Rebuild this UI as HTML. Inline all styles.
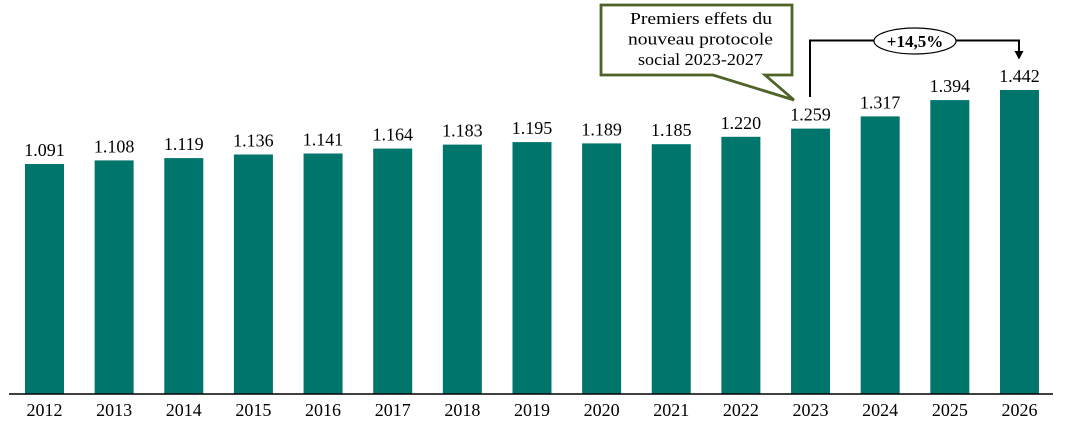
<!DOCTYPE html>
<html><head><meta charset="utf-8"><style>
html,body{margin:0;padding:0;background:#fff;}
svg{display:block;}
text{font-family:"Liberation Serif",serif;fill:#000;}
</style></head><body>
<svg width="1089" height="422" viewBox="0 0 1089 422" xmlns="http://www.w3.org/2000/svg">
<g fill="#00756c">
<rect x="25" y="164.0" width="39" height="230.0"/>
<rect x="94.64" y="160.4" width="39" height="233.6"/>
<rect x="164.28" y="158.1" width="39" height="235.9"/>
<rect x="233.92" y="154.5" width="39" height="239.5"/>
<rect x="303.56" y="153.5" width="39" height="240.5"/>
<rect x="373.2" y="148.6" width="39" height="245.4"/>
<rect x="442.84" y="144.6" width="39" height="249.4"/>
<rect x="512.48" y="142.1" width="39" height="251.9"/>
<rect x="582.12" y="143.4" width="39" height="250.6"/>
<rect x="651.76" y="144.2" width="39" height="249.8"/>
<rect x="721.4" y="136.8" width="39" height="257.2"/>
<rect x="791.04" y="128.6" width="39" height="265.4"/>
<rect x="860.68" y="116.4" width="39" height="277.6"/>
<rect x="930.32" y="100.1" width="39" height="293.9"/>
<rect x="999.96" y="90.0" width="39" height="304.0"/>
</g>
<line x1="9" y1="394" x2="1053" y2="394" stroke="#000" stroke-width="1.6"/>
<g font-size="18" text-anchor="middle">
<text x="44.5" y="156">1.091</text>
<text x="114.14" y="152.4">1.108</text>
<text x="183.78" y="150.1">1.119</text>
<text x="253.42" y="146.5">1.136</text>
<text x="323.06" y="145.5">1.141</text>
<text x="392.7" y="140.6">1.164</text>
<text x="462.34" y="136.6">1.183</text>
<text x="531.98" y="134.1">1.195</text>
<text x="601.62" y="135.4">1.189</text>
<text x="671.26" y="136.2">1.185</text>
<text x="740.9" y="128.8">1.220</text>
<text x="810.54" y="120.6">1.259</text>
<text x="880.18" y="108.4">1.317</text>
<text x="949.82" y="92.1">1.394</text>
<text x="1019.46" y="82">1.442</text>
</g>
<g font-size="18" text-anchor="middle">
<text x="44.5" y="416">2012</text>
<text x="114.14" y="416">2013</text>
<text x="183.78" y="416">2014</text>
<text x="253.42" y="416">2015</text>
<text x="323.06" y="416">2016</text>
<text x="392.7" y="416">2017</text>
<text x="462.34" y="416">2018</text>
<text x="531.98" y="416">2019</text>
<text x="601.62" y="416">2020</text>
<text x="671.26" y="416">2021</text>
<text x="740.9" y="416">2022</text>
<text x="810.54" y="416">2023</text>
<text x="880.18" y="416">2024</text>
<text x="949.82" y="416">2025</text>
<text x="1019.46" y="416">2026</text>
</g>
<!-- callout -->
<path d="M601,5 L792,5 L792,75 L765,75 L794,100 L713,75 L601,75 Z" fill="#fff" stroke="#4f6228" stroke-width="2.8" stroke-linejoin="miter"/>
<g font-size="17">
<text x="630" y="24" textLength="142" lengthAdjust="spacingAndGlyphs">Premiers effets du</text>
<text x="628" y="44.5" textLength="145" lengthAdjust="spacingAndGlyphs">nouveau protocole</text>
<text x="638" y="65" textLength="125" lengthAdjust="spacingAndGlyphs">social 2023-2027</text>
</g>
<!-- bracket -->
<polyline points="810,97 810,40.5 1019,40.5 1019,52" fill="none" stroke="#000" stroke-width="2"/>
<polygon points="1014.5,51 1023.5,51 1019,59.5" fill="#000"/>
<ellipse cx="915" cy="41" rx="41" ry="13" fill="#fff" stroke="#000" stroke-width="1.2"/>
<text x="915" y="47" font-size="17" font-weight="bold" text-anchor="middle">+14,5%</text>
</svg>
</body></html>
